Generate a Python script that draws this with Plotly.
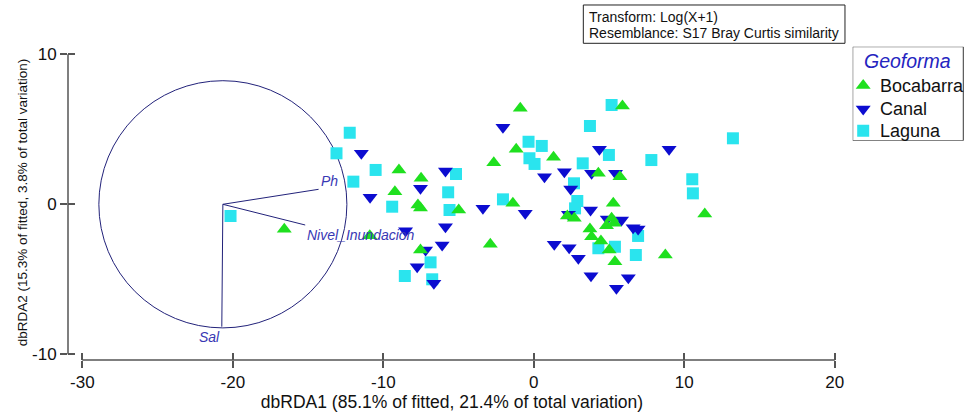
import plotly.graph_objects as go

# dbRDA ordination scores per Geoforma group (dbRDA1, dbRDA2)
bocabarra_x = [-16.58, -10.90, -8.96, -7.49, -9.23, -7.70, -7.53, -4.99, -2.66, -1.39,
               -2.89, -7.53, -0.90, -1.17, 1.31, 5.89, 4.29, 5.72, 5.28, 2.69,
               2.23, 5.17, 4.83, 5.35, 3.73, 3.84, 4.46, 5.01, 5.39, 11.36, 8.74]
bocabarra_y = [-1.67, -2.09, 2.29, 1.73, 0.84, -0.05, -0.25, -0.38, 2.77, 0.07,
               -2.67, -3.05, 6.40, 3.67, 3.13, 6.55, 2.07, 1.84, 0.07, -0.93,
               -0.78, -0.93, -1.43, -1.27, -1.65, -2.16, -2.45, -3.05, -3.83, -0.65, -3.38]

canal_x = [-11.46, -10.88, -5.87, -7.53, -3.38, -0.57, -8.52, -5.87, -6.09, -7.19,
           -7.75, -6.64, -2.05, 0.71, 2.03, 3.84, 4.36, 5.43, 8.99, 2.45,
           3.77, 2.30, 4.88, 5.83, 6.60, 6.93, 1.36, 2.35, 2.96, 3.80, 6.28, 5.49]
canal_y = [3.40, 0.47, 2.22, 1.07, -0.27, -0.60, -1.76, -1.49, -2.71, -3.05,
           -4.16, -5.27, 5.13, 1.84, 2.17, 2.07, 3.67, 2.07, 3.67, 1.02,
           -0.38, -0.67, -0.98, -1.05, -1.56, -1.65, -2.67, -2.89, -3.60, -4.76, -4.89, -5.60]

laguna_x = [-20.15, -12.23, -13.11, -10.51, -11.99, -5.17, -5.69, -9.41, -5.60, -2.05,
            -6.86, -8.57, -6.75, -0.35, 0.53, -0.29, 0.05, 3.73, 5.17, 3.25,
            4.99, 7.81, 13.23, 10.53, 10.57, 2.67, 2.89, 2.74, 6.93, 4.29, 5.39, 6.78]
laguna_y = [-0.78, 4.77, 3.40, 2.29, 1.51, 2.02, 0.80, -0.16, -0.38, 0.33,
            -3.87, -4.78, -5.00, 4.17, 3.89, 3.07, 2.69, 5.22, 6.62, 2.73,
            3.29, 2.95, 4.40, 1.67, 0.73, 1.40, 0.22, -0.27, -2.11, -2.93, -2.83, -3.38]

# Predictor vectors (multiple partial correlations) and the correlation circle
vec_names = ["Ph", "Nivel_Inundacion", "Sal"]
vec_x = [-14.30, -15.19, -20.73]
vec_y = [1.00, -1.38, -8.16]
origin_x, origin_y = -20.66, 0.0
circle_r = 8.24

x_ticks = [-30, -20, -10, 0, 10, 20]
y_ticks = [-10, 0, 10]
x_range = [-30.95, 20.08]
y_range = [-10.38, 10.62]

info_lines = ["Transform: Log(X+1)", "Resemblance: S17 Bray Curtis similarity"]

groups = [
    ("Bocabarra", bocabarra_x, bocabarra_y, "triangle-up", "#1fe01f", 13),
    ("Canal", canal_x, canal_y, "triangle-down", "#0c0cd0", 13),
    ("Laguna", laguna_x, laguna_y, "square", "#2ae4ee", 12),
]

VEC_COLOR = "#22227a"
LABEL_COLOR = "#3838b4"
AXIS_COLOR = "#555555"
FONT = "Liberation Sans, Arial, sans-serif"
MAIN_DOMAIN = [0, 0.8562]

# key panel laid out in pixel units (width x height of the framed box)
KEY_W, KEY_H = 110.6, 94.0
key_rows = [38.8, 62.3, 84.1]

fig = go.Figure()

# vectors from the common origin
for name, ex, ey in zip(vec_names, vec_x, vec_y):
    fig.add_trace(go.Scatter(x=[origin_x, ex], y=[origin_y, ey], mode="lines",
                             line=dict(color=VEC_COLOR, width=1), hoverinfo="skip"))

# sample scores, cyan drawn first so triangles sit on top
for name, xs, ys, sym, col, size in reversed(groups):
    fig.add_trace(go.Scatter(x=xs, y=ys, mode="markers", name=name,
                             marker=dict(symbol=sym, color=col, size=size,
                                         line=dict(width=0))))

# companion axes that carry the inner half of each tick mark
fig.add_trace(go.Scatter(x=[], y=[], xaxis="x2", yaxis="y2"))

# key symbols, one per Geoforma group
for (name, xs, ys, sym, col, size), ry in zip(groups, key_rows):
    fig.add_trace(go.Scatter(x=[10.5], y=[ry], xaxis="x3", yaxis="y3", mode="markers",
                             name=name, hoverinfo="name",
                             marker=dict(symbol=sym, color=col, size=size,
                                         line=dict(width=0))))

shapes = [
    dict(type="circle", xref="x", yref="y",
         x0=origin_x - circle_r, x1=origin_x + circle_r,
         y0=origin_y - circle_r, y1=origin_y + circle_r,
         line=dict(color=VEC_COLOR, width=1), layer="below"),
    # axis lines spanning only the tick range
    dict(type="line", xref="x", yref="paper", x0=x_ticks[0], x1=x_ticks[-1], y0=0, y1=0,
         line=dict(color=AXIS_COLOR, width=1.5)),
    dict(type="line", xref="paper", yref="y", x0=0, x1=0, y0=y_ticks[0], y1=y_ticks[-1],
         line=dict(color=AXIS_COLOR, width=1.5)),
    # frame of the key
    dict(type="rect", xref="x3", yref="y3", x0=0, x1=KEY_W, y0=0, y1=KEY_H,
         line=dict(color="#333", width=1), layer="below"),
    # frame of the transform / resemblance note
    dict(type="rect", xref="paper", yref="paper", x0=0.5745, x1=0.8662, y0=1.0054, y1=1.1270,
         line=dict(color="#222", width=1)),
]

annotations = []
label_place = {
    "Ph": dict(xanchor="left", yanchor="bottom", xshift=0, yshift=-2),
    "Nivel_Inundacion": dict(xanchor="left", yanchor="top", xshift=0, yshift=0),
    "Sal": dict(xanchor="right", yanchor="top", xshift=0, yshift=0),
}
for name, ex, ey in zip(vec_names, vec_x, vec_y):
    annotations.append(dict(x=ex, y=ey, xref="x", yref="y", text="<i>%s</i>" % name,
                            showarrow=False, font=dict(family=FONT, size=14, color=LABEL_COLOR),
                            **label_place[name]))

for line, ly in zip(info_lines, [1.0898, 1.0371]):
    annotations.append(dict(x=0.5789, y=ly, xref="paper", yref="paper",
                            xanchor="left", yanchor="middle", text=line, showarrow=False,
                            font=dict(family=FONT, size=14, color="#111")))

# key title and entry names
annotations.append(dict(x=KEY_W / 2, y=14.3, xref="x3", yref="y3", text="<i>Geoforma</i>",
                        showarrow=False, xanchor="center", yanchor="middle",
                        font=dict(family=FONT, size=19.5, color="#2424c0")))
for (name, *_), ry in zip(groups, key_rows):
    annotations.append(dict(x=25, y=ry, xref="x3", yref="y3", text=name, showarrow=False,
                            xanchor="left", yanchor="middle",
                            font=dict(family=FONT, size=18, color="#111")))

tick_common = dict(showgrid=False, zeroline=False, showline=False,
                   ticks="outside", ticklen=7, tickwidth=1.5, tickcolor=AXIS_COLOR)
hidden = dict(visible=False, showgrid=False, zeroline=False, fixedrange=True)

fig.update_layout(
    width=965, height=412,
    margin=dict(l=68, r=0, t=45, b=52, autoexpand=False),
    plot_bgcolor="white", paper_bgcolor="white",
    font=dict(family=FONT, color="#111"),
    showlegend=False,
    xaxis=dict(domain=MAIN_DOMAIN, range=x_range, tickvals=x_ticks,
               ticktext=[str(v) for v in x_ticks], tickfont=dict(size=17),
               title=dict(text="dbRDA1 (85.1% of fitted, 21.4% of total variation)",
                          font=dict(size=17.5), standoff=1),
               automargin=False, **tick_common),
    yaxis=dict(range=y_range, tickvals=y_ticks, ticktext=[str(v) for v in y_ticks],
               tickfont=dict(size=17),
               title=dict(text="dbRDA2 (15.3% of fitted, 3.8% of total variation)",
                          font=dict(size=13.5), standoff=1),
               automargin=False, **tick_common),
    xaxis2=dict(domain=MAIN_DOMAIN, overlaying="x", anchor="y", side="bottom",
                range=x_range, tickvals=x_ticks, showticklabels=False, showgrid=False,
                zeroline=False, showline=False, ticks="inside", ticklen=7,
                tickwidth=1.5, tickcolor=AXIS_COLOR),
    yaxis2=dict(overlaying="y", anchor="x", side="left", range=y_range, tickvals=y_ticks,
                showticklabels=False, showgrid=False, zeroline=False, showline=False,
                ticks="inside", ticklen=7, tickwidth=1.5, tickcolor=AXIS_COLOR),
    xaxis3=dict(domain=[0.8748, 1.0], range=[0, 112.3], anchor="y3", **hidden),
    yaxis3=dict(domain=[0.6962, 0.9946], range=[KEY_H, 0], anchor="x3", **hidden),
    shapes=shapes,
    annotations=annotations,
)

fig.write_html("out.html")
